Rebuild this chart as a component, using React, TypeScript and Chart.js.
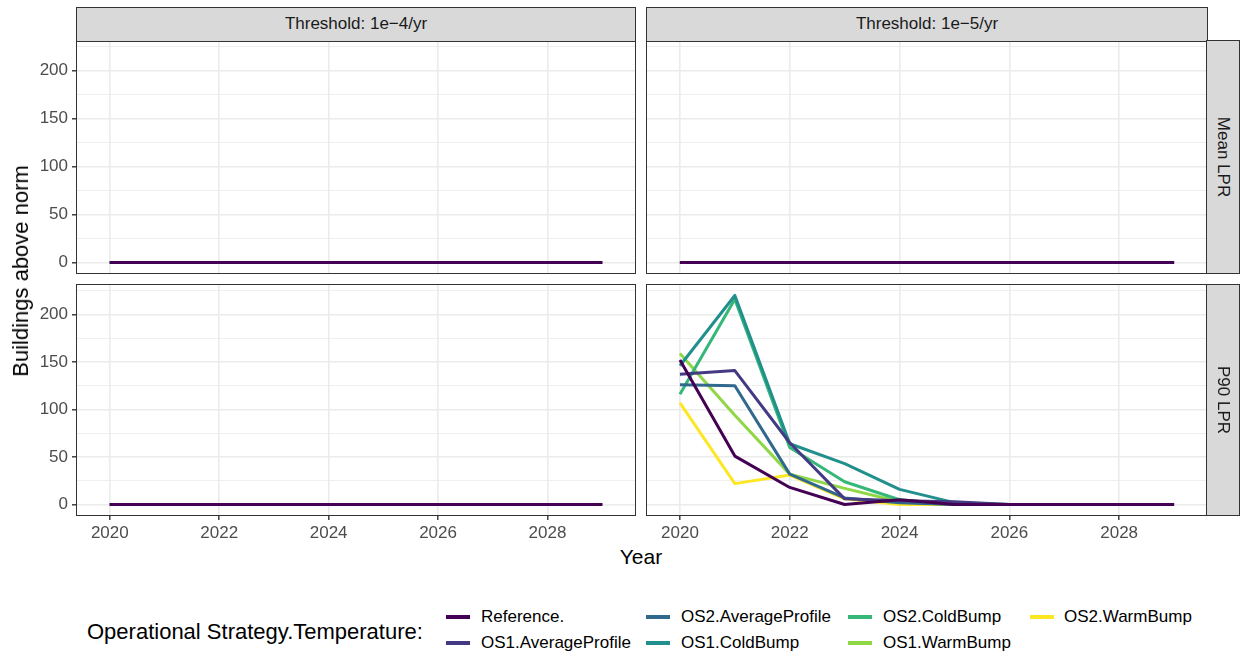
import React, { useEffect, useRef } from 'react';
import { Chart, registerables } from 'chart.js';

Chart.register(...registerables);

// ---------- data ----------
const YEARS = [2020, 2021, 2022, 2023, 2024, 2025, 2026, 2027, 2028, 2029];

const SERIES_NAMES = [
  'Reference.',
  'OS1.AverageProfile',
  'OS2.AverageProfile',
  'OS1.ColdBump',
  'OS2.ColdBump',
  'OS1.WarmBump',
  'OS2.WarmBump',
];
const SERIES_COLORS = ['#440154', '#443A83', '#31688E', '#21908C', '#35B779', '#8FD744', '#FDE725'];

const ALL_ZERO = [0, 0, 0, 0, 0, 0, 0, 0, 0, 0];

// P90 LPR, threshold 1e-5/yr
const P90_E5_REFERENCE = [152, 51, 18, 0, 5, 0, 0, 0, 0, 0];
const P90_E5_OS1_AVERAGE = [137, 141, 65, 6, 4, 3, 0, 0, 0, 0];
const P90_E5_OS2_AVERAGE = [126, 125, 32, 7, 2, 0, 0, 0, 0, 0];
const P90_E5_OS1_COLD = [146, 220, 64, 43, 16, 2, 0, 0, 0, 0];
const P90_E5_OS2_COLD = [116, 216, 60, 24, 5, 0, 0, 0, 0, 0];
const P90_E5_OS1_WARM = [159, 94, 32, 17, 3, 0, 0, 0, 0, 0];
const P90_E5_OS2_WARM = [107, 22, 31, 6, 0, 0, 0, 0, 0, 0];

const ZERO_PANEL = [ALL_ZERO, ALL_ZERO, ALL_ZERO, ALL_ZERO, ALL_ZERO, ALL_ZERO, ALL_ZERO];
const P90_E5_PANEL = [
  P90_E5_REFERENCE,
  P90_E5_OS1_AVERAGE,
  P90_E5_OS2_AVERAGE,
  P90_E5_OS1_COLD,
  P90_E5_OS2_COLD,
  P90_E5_OS1_WARM,
  P90_E5_OS2_WARM,
];

const X_TICKS = [2020, 2022, 2024, 2026, 2028];
const Y_TICKS = [0, 25, 50, 75, 100, 125, 150, 175, 200, 225];
const Y_MAJOR = [0, 50, 100, 150, 200];

const COL_STRIPS = ['Threshold: 1e\u22124/yr', 'Threshold: 1e\u22125/yr'];
const ROW_STRIPS = ['Mean LPR', 'P90 LPR'];

// ---------- style ----------
const FONT = '"Liberation Sans", Arial, sans-serif';
const X_MIN = 2019.4;
const X_MAX = 2029.6;
const Y_MIN = -11;
const Y_MAX = 231;

type PanelProps = {
  left: number;
  top: number;
  width: number;
  height: number;
  axisLeft: number;
  axisBottom: number;
  series: number[][];
};

function zeroPadding(s: any) {
  s.paddingTop = 0;
  s.paddingBottom = 0;
  s.paddingLeft = 0;
  s.paddingRight = 0;
}

function Panel({ left, top, width, height, axisLeft, axisBottom, series }: PanelProps) {
  const ref = useRef<HTMLCanvasElement>(null);
  useEffect(() => {
    const showX = axisBottom > 0;
    const showY = axisLeft > 0;
    const isMajorY = (v: number) => Y_MAJOR.indexOf(v) >= 0;
    const chart = new Chart(ref.current as HTMLCanvasElement, {
      type: 'line',
      data: {
        datasets: SERIES_NAMES.map((name, i) => ({
          label: name,
          data: YEARS.map((yr, j) => ({ x: yr, y: series[i][j] })),
          borderColor: SERIES_COLORS[i],
          backgroundColor: SERIES_COLORS[i],
          borderWidth: 3,
          borderJoinStyle: 'round',
          borderCapStyle: 'butt',
          pointRadius: 0,
          fill: false,
          tension: 0,
        })),
      },
      options: {
        animation: false,
        responsive: false,
        maintainAspectRatio: false,
        layout: { padding: 0 },
        plugins: { legend: { display: false }, tooltip: { enabled: false } },
        events: [],
        scales: {
          x: {
            type: 'linear',
            min: X_MIN,
            max: X_MAX,
            afterBuildTicks: (s: any) => {
              s.ticks = X_TICKS.map((v) => ({ value: v }));
            },
            afterFit: (s: any) => {
              s.height = axisBottom;
              zeroPadding(s);
            },
            border: { display: false },
            grid: {
              color: '#EBEBEB',
              lineWidth: 1.6,
              drawTicks: showX,
              tickLength: 5,
              tickColor: '#333333',
              tickWidth: 1.4,
            },
            ticks: {
              display: showX,
              autoSkip: false,
              maxRotation: 0,
              padding: 3,
              color: '#4D4D4D',
              font: { family: FONT, size: 17 },
              callback: (v: any) => String(v),
            },
          },
          y: {
            type: 'linear',
            min: Y_MIN,
            max: Y_MAX,
            afterBuildTicks: (s: any) => {
              s.ticks = Y_TICKS.map((v) => ({ value: v }));
            },
            afterFit: (s: any) => {
              s.width = axisLeft;
              zeroPadding(s);
            },
            border: { display: false },
            grid: {
              color: '#EBEBEB',
              lineWidth: (c: any) => (c.tick && isMajorY(c.tick.value) ? 1.6 : 0.8),
              drawTicks: showY,
              tickLength: 5,
              tickColor: (c: any) => (c.tick && isMajorY(c.tick.value) ? '#333333' : 'rgba(0,0,0,0)'),
              tickWidth: 1.4,
            },
            ticks: {
              display: showY,
              autoSkip: false,
              padding: 4,
              color: '#4D4D4D',
              font: { family: FONT, size: 17 },
              callback: (v: any) => (isMajorY(Number(v)) ? String(v) : ''),
            },
          },
        },
      } as any,
    });
    return () => chart.destroy();
  }, []);
  return (
    <canvas
      ref={ref}
      width={width}
      height={height}
      style={{ position: 'absolute', left, top, width, height, display: 'block' }}
    />
  );
}

const PANEL_X = [77, 647];
const PANEL_W = [558, 560];
const PANEL_Y = [41, 285];
const PANEL_H = [232, 230];

const LEGEND_KEY_X = [446, 646, 848, 1030];
const LEGEND_LABEL_X = [481, 681, 883, 1064];
const LEGEND_ROW_Y = [617, 643];

export default function App() {
  const abs = (s: React.CSSProperties): React.CSSProperties => ({ position: 'absolute', ...s });
  return (
    <div
      style={{
        position: 'absolute',
        left: 0,
        top: 0,
        width: 1242,
        height: 657,
        background: '#FFFFFF',
        fontFamily: FONT,
        overflow: 'hidden',
      }}
    >
      {/* panels */}
      <Panel left={0} top={PANEL_Y[0]} width={PANEL_X[0] + PANEL_W[0]} height={PANEL_H[0]} axisLeft={77} axisBottom={0} series={ZERO_PANEL} />
      <Panel left={PANEL_X[1]} top={PANEL_Y[0]} width={PANEL_W[1]} height={PANEL_H[0]} axisLeft={0} axisBottom={0} series={ZERO_PANEL} />
      <Panel left={0} top={PANEL_Y[1]} width={PANEL_X[0] + PANEL_W[0]} height={PANEL_H[1] + 30} axisLeft={77} axisBottom={30} series={ZERO_PANEL} />
      <Panel left={PANEL_X[1]} top={PANEL_Y[1]} width={PANEL_W[1]} height={PANEL_H[1] + 30} axisLeft={0} axisBottom={30} series={P90_E5_PANEL} />

      {/* panel borders */}
      {PANEL_Y.map((py, r) =>
        PANEL_X.map((px, c) => (
          <div
            key={`b${r}${c}`}
            style={abs({
              left: px - 0.75,
              top: py - 0.75,
              width: PANEL_W[c] + 1.5,
              height: PANEL_H[r] + 1.5,
              border: '1.5px solid #333333',
              boxSizing: 'border-box',
              pointerEvents: 'none',
            })}
          />
        ))
      )}

      {/* column strips */}
      {PANEL_X.map((px, c) => (
        <div
          key={`cs${c}`}
          style={abs({
            left: px - 0.75,
            top: 7,
            width: PANEL_W[c] + 1.5,
            height: 34.75,
            background: '#D9D9D9',
            border: '1.5px solid #333333',
            boxSizing: 'border-box',
            display: 'flex',
            alignItems: 'center',
            justifyContent: 'center',
            fontSize: 17,
            color: '#1A1A1A',
            whiteSpace: 'nowrap',
          })}
        >
          {COL_STRIPS[c]}
        </div>
      ))}

      {/* row strips */}
      {PANEL_Y.map((py, r) => (
        <div
          key={`rs${r}`}
          style={abs({
            left: 1206.25,
            top: py - 0.75,
            width: 34,
            height: PANEL_H[r] + 1.5,
            background: '#D9D9D9',
            border: '1.5px solid #333333',
            boxSizing: 'border-box',
          })}
        >
          <div
            style={abs({
              left: '50%',
              top: '50%',
              transform: 'translate(-50%, -50%) rotate(90deg)',
              fontSize: 17,
              color: '#1A1A1A',
              whiteSpace: 'nowrap',
            })}
          >
            {ROW_STRIPS[r]}
          </div>
        </div>
      ))}

      {/* axis titles */}
      <div
        style={abs({
          left: 21,
          top: 271,
          transform: 'translate(-50%, -50%) rotate(-90deg)',
          fontSize: 22,
          color: '#000000',
          whiteSpace: 'nowrap',
        })}
      >
        Buildings above norm
      </div>
      <div
        style={abs({
          left: 641,
          top: 557,
          transform: 'translate(-50%, -50%)',
          fontSize: 21,
          color: '#000000',
          whiteSpace: 'nowrap',
        })}
      >
        Year
      </div>

      {/* legend */}
      <div
        style={abs({
          left: 87,
          top: 632,
          transform: 'translateY(-50%)',
          fontSize: 22,
          color: '#000000',
          whiteSpace: 'nowrap',
        })}
      >
        Operational Strategy.Temperature:
      </div>
      {SERIES_NAMES.map((name, i) => {
        const col = Math.floor(i / 2);
        const row = i % 2;
        return (
          <React.Fragment key={name}>
            <div
              style={abs({
                left: LEGEND_KEY_X[col],
                top: LEGEND_ROW_Y[row] - 2,
                width: 24,
                height: 4,
                background: SERIES_COLORS[i],
              })}
            />
            <div
              style={abs({
                left: LEGEND_LABEL_X[col],
                top: LEGEND_ROW_Y[row],
                transform: 'translateY(-50%)',
                fontSize: 17,
                color: '#000000',
                whiteSpace: 'nowrap',
              })}
            >
              {name}
            </div>
          </React.Fragment>
        );
      })}
    </div>
  );
}
